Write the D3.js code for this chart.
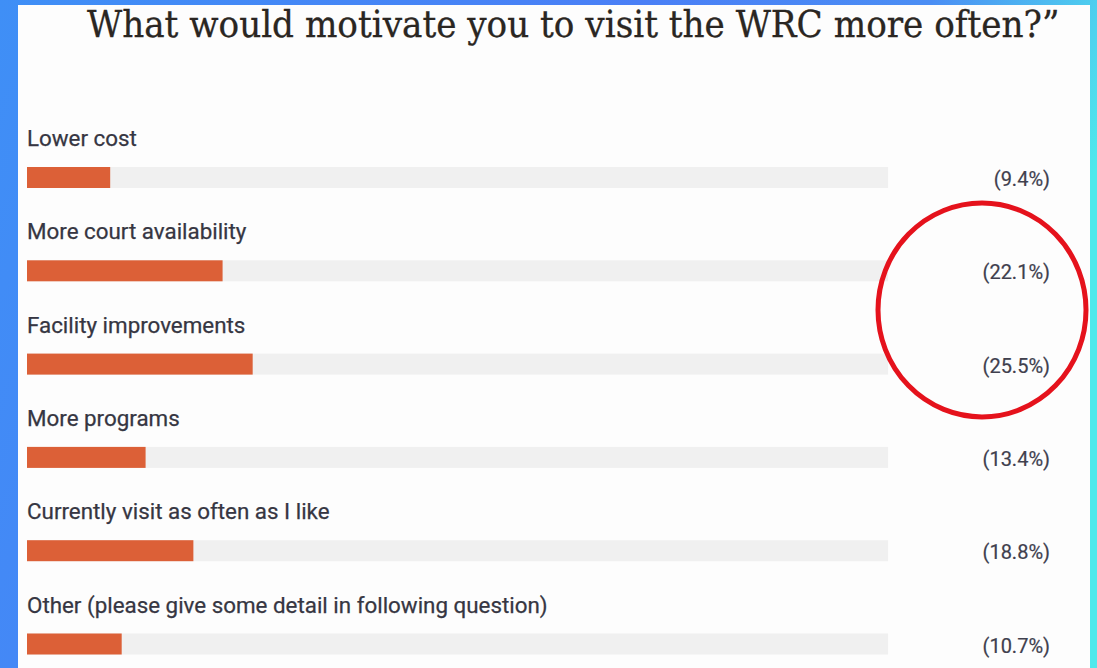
<!DOCTYPE html>
<html><head><meta charset="utf-8">
<script src="https://cdn.jsdelivr.net/npm/d3@7"></script>
<style>html,body{margin:0;padding:0;overflow:hidden;background:#fff}</style>
</head><body>
<svg id="c" width="1097" height="668"></svg>
<script>
const title = "What would motivate you to visit the WRC more often?\u201D";
const categories = [
  "Lower cost",
  "More court availability",
  "Facility improvements",
  "More programs",
  "Currently visit as often as I like",
  "Other (please give some detail in following question)"
];
const values = [9.4, 22.1, 25.5, 13.4, 18.8, 10.7];
const valueLabels = ["(9.4%)", "(22.1%)", "(25.5%)", "(13.4%)", "(18.8%)", "(10.7%)"];
const highlighted = ["More court availability", "Facility improvements"];

const W = 1097, H = 668;
const svg = d3.select("#c");
const defs = svg.append("defs");
const g = defs.append("linearGradient").attr("id","bg").attr("x1","0").attr("y1","0").attr("x2","1").attr("y2","0.25");
g.append("stop").attr("offset","0").attr("stop-color","#3f8ff6");
g.append("stop").attr("offset","0.55").attr("stop-color","#4a7ff6");
g.append("stop").attr("offset","0.8").attr("stop-color","#4b8ef4");
g.append("stop").attr("offset","1").attr("stop-color","#4fe9ec");
svg.append("rect").attr("width",W).attr("height",H).attr("fill","url(#bg)");
svg.append("rect").attr("x",18).attr("y",5).attr("width",1072).attr("height",H-5).attr("fill","#fdfdfd");

// title
const t = svg.append("text").attr("x",0).attr("y",0)
  .attr("font-family","'DejaVu Serif', serif").attr("font-size",37)
  .attr("fill","#2a2622").attr("stroke","#2a2622").attr("stroke-width",0.3)
  .text(title);
const tw = t.node().getComputedTextLength();
t.attr("transform", `translate(87,37) scale(${973 / tw},1)`);

const x = d3.scaleLinear().domain([0, 100]).range([27, 912]);
const y = d3.scaleBand().domain(categories).range([167, 167 + 93.3*6]).paddingInner(0).paddingOuter(0);
const barH = 21;

const rows = svg.append("g").selectAll("g").data(categories).join("g")
  .attr("transform", d => `translate(0,${y(d)})`);

rows.append("rect").attr("x", x(0)).attr("y", 0).attr("height", barH)
  .attr("width", x(97.3) - x(0)).attr("fill", "#f0f0f0");
rows.append("rect").attr("x", x(0)).attr("y", 0).attr("height", barH)
  .attr("width", (d,i) => x(values[i]) - x(0)).attr("fill", "#dc6037");

const labels = rows.append("text").attr("x", 27).attr("y", -21)
  .attr("font-family","Roboto, sans-serif").attr("font-size",19)
  .attr("fill","#363642").attr("stroke","#363642").attr("stroke-width",0.25).text(d => d);
const lw = labels.filter((d,i)=>i===5).node().getComputedTextLength();
labels.attr("font-size", 19 * 521 / lw);

rows.append("text").attr("x", 1050).attr("y", 19).attr("text-anchor","end")
  .attr("font-family","Roboto, sans-serif").attr("font-size",20)
  .attr("fill","#40404e").attr("stroke","#40404e").attr("stroke-width",0.2)
  .text((d,i) => valueLabels[i]);

// highlight circle around the two highlighted values
const hy = highlighted.map(d => y(d));
const cy = (hy[0] + hy[1]) / 2 + 3;
svg.append("ellipse").attr("cx", 982).attr("cy", cy)
  .attr("rx", 104).attr("ry", 107)
  .attr("fill","none").attr("stroke","#e5121c").attr("stroke-width",5);
</script>
</body></html>
